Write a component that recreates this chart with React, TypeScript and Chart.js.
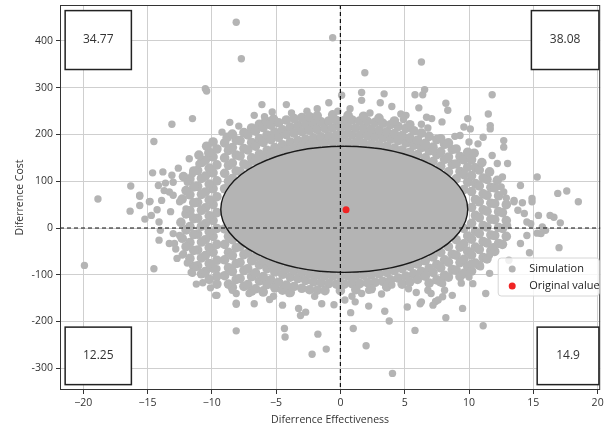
import React, { useEffect, useRef } from "react";
import { Chart, registerables } from "chart.js";
Chart.register(...registerables);

// ---- axis ticks ----
const xTicks = [-20, -15, -10, -5, 0, 5, 10, 15, 20];
const yTicks = [-300, -200, -100, 0, 100, 200, 300, 400];
const xRange = [-21.8, 20.2];
const yRange = [-346.5, 477];

// ---- quadrant labels (TL, TR, BL, BR) ----
const quadrantLabels = ["34.77", "38.08", "12.25", "14.9"];

// ---- original value ----
const originalValue: [number, number][] = [[0.44, 39]];

// ---- confidence ellipse (center, semi-axes in data units) ----
const ellipseCenter = [0.3, 40];
const ellipseRadii = [9.6, 135];

// ---- simulation points ----
const outlierPoints: [number, number][] = [
  [-8.1, 440], [-0.6, 407], [-7.7, 362], [1.9, 332], [6.3, 355], [-10.5, 298], [-10.4, 293],
  [-13.1, 222], [-11.5, 234], [-14.5, 185], [-6.1, 264], [-4.2, 264], [-0.9, 268], [0.1, 284],
  [1.65, 290], [1.65, 273], [3.4, 287], [3.1, 268], [4.0, 260], [0.75, 255], [-1.8, 255],
  [-8.6, 226], [-6.7, 241], [-5.3, 248], [5.8, 285], [6.4, 285], [6.55, 296], [11.8, 285],
  [8.2, 267], [8.35, 252], [6.1, 257], [6.7, 237], [7.1, 234], [6.3, 222], [7.9, 227], [4.7, 244],
  [5.1, 241], [9.9, 234], [9.6, 216], [10.1, 212], [11.5, 244], [11.65, 219], [11.65, 212],
  [9.3, 198], [10.0, 184], [10.7, 180], [11.1, 194], [12.7, 187], [12.7, 173], [13.0, 138],
  [12.2, 138], [11.8, 155], [14.0, 91], [15.3, 109], [16.9, 74], [17.6, 79], [18.5, 56],
  [14.9, 63], [14.9, 56], [13.5, 56], [14.15, 54], [15.4, 27], [16.3, 27], [16.6, 23],
  [17.1, 11], [17.0, -42], [15.6, -12], [14.7, -53], [15.7, 2], [15.95, -5], [15.3, -11],
  [14.5, -16], [14.0, -33], [13.1, -69], [13.5, 59], [13.8, 38], [14.3, 31], [14.5, 13],
  [14.8, 9], [12.5, 88], [12.7, 77], [12.6, 109],
  [-18.85, 62], [-19.9, -80], [-16.3, 90], [-16.35, 36], [-15.6, 68], [-15.6, 48], [-14.6, 118],
  [-13.8, 120], [-14.5, -87], [-15.2, 19], [-14.7, 27], [-14.25, 39], [-14.8, 57], [-14.15, 91],
  [-13.6, 96], [-13.1, 113], [-13.0, 98], [-11.75, 148], [-15.6, 70], [-14.85, 56], [-13.9, 59],
  [-13.7, 80], [-13.3, 77], [-13.0, 70], [-14.1, 13], [-14.0, -5], [-14.1, -26], [-13.3, -33],
  [-12.9, -33], [-12.7, -65], [-12.2, -55], [-11.9, -75], [-11.3, -85], [-11.5, -97],
  [-11.2, -120], [-10.7, -117], [-9.7, -144], [-10.5, -97], [-9.6, -87], [-8.4, -126],
  [-8.1, -140], [-8.1, -161], [-12.5, 56], [-11.9, 98], [-11.5, 116], [-11.0, 137], [-12.0, 41],
  [-11.5, 24], [-13.0, -12], [-12.5, -16], [-10.3, 160], [-12.3, -58], [-11.6, -95],
  [-8.1, -220], [-4.35, -215], [-4.3, -233], [-2.2, -270], [-1.75, -227], [-1.1, -259],
  [2.0, -252], [1.0, -215], [4.05, -311], [3.8, -199], [3.45, -178], [5.8, -219], [8.2, -192],
  [9.5, -172], [11.1, -209], [7.4, -157], [8.7, -144], [6.2, -162], [5.2, -169], [2.2, -167],
  [0.8, -181], [-0.5, -164], [-1.45, -162], [-3.25, -172], [-3.1, -187], [-2.7, -180],
  [-4.5, -165], [-5.5, -153], [-6.7, -162], [-8.1, -163], [-9.6, -144], [-8.4, -133],
  [-7.1, -140], [-6.0, -132], [-4.0, -140], [6.8, -133], [8.1, -133], [10.3, -119],
  [11.3, -140], [10.15, -76], [10.9, -83], [4.0, -122], [5.3, -130], [2.2, -133], [1.65, -140],
  [1.15, -158], [0.35, -154], [11.6, -58], [11.6, -97], [10.0, -105], [7.95, -119],
  [7.95, -147], [7.6, -154], [7.2, -165], [7.05, -140], [6.3, -158],
  [-9.2, 205], [-7.9, 218], [-5.9, 238], [-3.8, 246], [-2.6, 250], [-0.2, 250], [2.3, 246],
  [4.9, 232], [6.8, 214], [8.9, 196], [-12.6, 128], [-13.2, 35], [-12.8, -45], [-10.1, -128],
  [-5.2, -146], [-2.0, -146], [0.9, -146], [3.2, -141], [5.9, -138], [9.4, -118], [11.9, -40],
  [13.0, 5], [12.9, 64],
];

const upperBand: [number, number][] = [
  [-9.0, 84], [-8.7, 100], [-9.0, 117], [-8.7, 134], [-9.0, 150], [-8.7, 166], [-9.0, 182], [-8.8, 194],
  [-8.4, 106], [-8.1, 122], [-8.4, 139], [-8.1, 156], [-8.4, 172], [-8.1, 188], [-8.4, 201],
  [-7.8, 121], [-7.5, 137], [-7.8, 154], [-7.5, 170], [-7.8, 187], [-7.5, 204],
  [-7.2, 134], [-6.9, 150], [-7.2, 167], [-6.9, 183], [-7.2, 199], [-6.9, 214],
  [-6.6, 143], [-6.3, 158], [-6.6, 175], [-6.3, 191], [-6.6, 207], [-6.3, 222],
  [-6.0, 150], [-5.7, 166], [-6.0, 183], [-5.7, 199], [-6.0, 215], [-5.8, 229],
  [-5.4, 157], [-5.1, 172], [-5.4, 189], [-5.1, 205], [-5.4, 220], [-5.2, 233],
  [-4.8, 162], [-4.5, 178], [-4.8, 194], [-4.5, 210], [-4.8, 225],
  [-4.2, 168], [-3.9, 184], [-4.2, 200], [-3.9, 216], [-4.2, 231],
  [-3.6, 171], [-3.3, 187], [-3.6, 203], [-3.3, 219], [-3.6, 234],
  [-3.0, 175], [-2.7, 190], [-3.0, 206], [-2.7, 222], [-3.0, 236],
  [-2.4, 177], [-2.1, 193], [-2.4, 209], [-2.1, 225], [-2.4, 238],
  [-1.8, 180], [-1.5, 195], [-1.8, 211], [-1.5, 227], [-1.8, 240],
  [-1.2, 182], [-0.9, 197], [-1.2, 213], [-0.9, 229],
  [-0.6, 183], [-0.3, 198], [-0.6, 214], [-0.3, 230], [-0.6, 242],
  [0.0, 183], [0.3, 199], [0.0, 215], [0.3, 230],
  [0.6, 183], [0.9, 199], [0.6, 215], [0.9, 231], [0.6, 241],
  [1.2, 183], [1.5, 198], [1.2, 214], [1.5, 229],
  [1.8, 181], [2.1, 197], [1.8, 213], [2.1, 228], [1.8, 239],
  [2.4, 180], [2.7, 195], [2.4, 211], [2.7, 226],
  [3.0, 178], [3.3, 193], [3.0, 209], [3.3, 224], [3.0, 235],
  [3.6, 175], [3.9, 190], [3.6, 206], [3.9, 221],
  [4.2, 171], [4.5, 187], [4.2, 202], [4.5, 217], [4.2, 229],
  [4.8, 167], [5.1, 182], [4.8, 198], [5.1, 213],
  [5.4, 162], [5.7, 177], [5.4, 193], [5.7, 208], [5.4, 221],
  [6.0, 157], [6.3, 172], [6.0, 188], [6.3, 203],
  [6.6, 150], [6.9, 165], [6.6, 181], [6.9, 196],
  [7.2, 142], [7.5, 157], [7.2, 173], [7.5, 189],
  [7.8, 132], [8.1, 147], [7.8, 163], [8.1, 179], [7.8, 191],
  [8.4, 120], [8.7, 136], [8.4, 152], [8.7, 168], [8.4, 182],
  [9.0, 105], [9.3, 121], [9.0, 137], [9.3, 153], [9.0, 169],
  [9.6, 82], [9.9, 98], [9.6, 114], [9.9, 130], [9.6, 146], [9.9, 162],
];

const lowerBand: [number, number][] = [
  [-9.0, -2], [-8.7, -18], [-9.0, -35], [-8.7, -52], [-9.0, -68], [-8.7, -85], [-9.0, -102], [-8.7, -120],
  [-8.4, -25], [-8.1, -42], [-8.4, -59], [-8.1, -76], [-8.4, -93], [-8.1, -110], [-8.4, -127],
  [-7.8, -40], [-7.5, -57], [-7.8, -74], [-7.5, -91], [-7.8, -108], [-7.5, -125],
  [-7.2, -53], [-6.9, -70], [-7.2, -87], [-6.9, -104], [-7.2, -121], [-6.9, -135],
  [-6.6, -62], [-6.3, -79], [-6.6, -96], [-6.3, -113], [-6.6, -130],
  [-6.0, -70], [-5.7, -87], [-6.0, -104], [-5.7, -121], [-6.0, -137],
  [-5.4, -77], [-5.1, -94], [-5.4, -111], [-5.1, -128],
  [-4.8, -82], [-4.5, -99], [-4.8, -116], [-4.5, -133],
  [-4.2, -88], [-3.9, -105], [-4.2, -122], [-3.9, -138],
  [-3.6, -91], [-3.3, -108], [-3.6, -125],
  [-3.0, -95], [-2.7, -112], [-3.0, -129],
  [-2.4, -98], [-2.1, -115], [-2.4, -132],
  [-1.8, -100], [-1.5, -117], [-1.8, -133],
  [-1.2, -102], [-0.9, -119], [-1.2, -134],
  [-0.6, -103], [-0.3, -120],
  [0.0, -103], [0.3, -120], [0.0, -134],
  [0.6, -103], [0.9, -119],
  [1.2, -103], [1.5, -119], [1.2, -132],
  [1.8, -101], [2.1, -117],
  [2.4, -100], [2.7, -116], [2.4, -130],
  [3.0, -98], [3.3, -114],
  [3.6, -95], [3.9, -111], [3.6, -126],
  [4.2, -91], [4.5, -107],
  [4.8, -87], [5.1, -103], [4.8, -120],
  [5.4, -82], [5.7, -98], [5.4, -115],
  [6.0, -77], [6.3, -93], [6.0, -110],
  [6.6, -70], [6.9, -86], [6.6, -103], [6.9, -118],
  [7.2, -62], [7.5, -78], [7.2, -95], [7.5, -111],
  [7.8, -52], [8.1, -68], [7.8, -85], [8.1, -101], [7.8, -115],
  [8.4, -40], [8.7, -56], [8.4, -73], [8.7, -89], [8.4, -105],
  [9.0, -25], [9.3, -41], [9.0, -58], [9.3, -74], [9.0, -90], [9.3, -104],
  [9.6, -1], [9.9, -17], [9.6, -34], [9.9, -50], [9.6, -67], [9.9, -83], [9.6, -97],
];

const leftWing: [number, number][] = [
  [-9.6, -120], [-9.6, -103], [-9.9, -86], [-9.6, -69], [-9.9, -52], [-9.6, -35], [-9.9, -18],
  [-9.6, -1], [-9.9, 16], [-9.6, 33], [-9.9, 50], [-9.6, 67], [-9.9, 84], [-9.6, 101],
  [-9.9, 118], [-9.6, 135], [-9.9, 152], [-9.6, 169], [-9.9, 184],
  [-10.2, -110], [-10.5, -93], [-10.2, -76], [-10.5, -59], [-10.2, -42], [-10.5, -25],
  [-10.2, -8], [-10.5, 9], [-10.2, 26], [-10.5, 43], [-10.2, 60], [-10.5, 77], [-10.2, 94],
  [-10.5, 111], [-10.2, 128], [-10.5, 145], [-10.2, 162], [-10.4, 175],
  [-10.8, -98], [-11.1, -81], [-10.8, -64], [-11.1, -47], [-10.8, -30], [-11.1, -13],
  [-10.8, 4], [-11.1, 21], [-10.8, 38], [-11.1, 55], [-10.8, 72], [-11.1, 89], [-10.8, 106],
  [-11.1, 123], [-10.8, 140], [-11.0, 156],
  [-11.4, -82], [-11.7, -65], [-11.4, -48], [-11.7, -31], [-11.4, -14], [-11.7, 3],
  [-11.4, 20], [-11.7, 37], [-11.4, 54], [-11.7, 71], [-11.4, 88], [-11.7, 105], [-11.4, 122],
  [-12.0, -40], [-12.3, -22], [-12.0, -4], [-12.4, 12], [-12.0, 30], [-12.3, 62], [-12.0, 80],
  [-12.2, 110],
];

const rightWing: [number, number][] = [
  [10.2, -92], [10.5, -75], [10.2, -58], [10.5, -41], [10.2, -24], [10.5, -7], [10.2, 10],
  [10.5, 27], [10.2, 44], [10.5, 61], [10.2, 78], [10.5, 95], [10.2, 112], [10.5, 129],
  [10.2, 146], [10.4, 160],
  [10.8, -80], [11.1, -63], [10.8, -46], [11.1, -29], [10.8, -12], [11.1, 5], [10.8, 22],
  [11.1, 39], [10.8, 56], [11.1, 73], [10.8, 90], [11.1, 107], [10.8, 124], [11.0, 140],
  [11.4, -66], [11.7, -49], [11.4, -32], [11.7, -15], [11.4, 2], [11.7, 19], [11.4, 36],
  [11.7, 53], [11.4, 70], [11.7, 87], [11.4, 104], [11.6, 120],
  [12.0, -50], [12.3, -33], [12.0, -16], [12.3, 1], [12.0, 18], [12.3, 35], [12.0, 52],
  [12.3, 69], [12.0, 86], [12.2, 102],
  [12.6, -35], [12.9, -18], [12.6, -1], [12.9, 16], [12.6, 33], [12.9, 50],
];

const GRAY = "#b4b4b4";
const RED = "#f02424";
const FONT = "'Open Sans', 'DejaVu Sans', sans-serif";

const toXY = (arr: [number, number][]) => arr.map(([x, y]) => ({ x, y }));

const ellipsePixels = (chart: any) => {
  const xs = chart.scales.x, ys = chart.scales.y;
  const cx = xs.getPixelForValue(ellipseCenter[0]);
  const cy = ys.getPixelForValue(ellipseCenter[1]);
  const rx = Math.abs(xs.getPixelForValue(ellipseCenter[0] + ellipseRadii[0]) - cx);
  const ry = Math.abs(ys.getPixelForValue(ellipseCenter[1] + ellipseRadii[1]) - cy);
  return { cx, cy, rx, ry };
};

const overlayPlugin = {
  id: "overlay",
  beforeDatasetsDraw(chart: any) {
    const { ctx } = chart;
    const { cx, cy, rx, ry } = ellipsePixels(chart);
    ctx.save();
    ctx.beginPath();
    ctx.ellipse(cx, cy, rx, ry, 0, 0, Math.PI * 2);
    ctx.fillStyle = GRAY;
    ctx.fill();
    ctx.restore();
  },
  afterDatasetsDraw(chart: any) {
    const { ctx, scales, chartArea } = chart;
    const xs = scales.x, ys = scales.y;
    ctx.save();
    const { cx, cy, rx, ry } = ellipsePixels(chart);
    ctx.beginPath();
    ctx.ellipse(cx, cy, rx, ry, 0, 0, Math.PI * 2);
    ctx.strokeStyle = "#1a1a1a";
    ctx.lineWidth = 1.4;
    ctx.stroke();

    // dashed zero lines
    ctx.setLineDash([4, 3]);
    ctx.lineWidth = 1.2;
    ctx.strokeStyle = "#111";
    const x0 = xs.getPixelForValue(0);
    const y0 = ys.getPixelForValue(0);
    ctx.beginPath();
    ctx.moveTo(x0, chartArea.top);
    ctx.lineTo(x0, chartArea.bottom);
    ctx.moveTo(chartArea.left, y0);
    ctx.lineTo(chartArea.right, y0);
    ctx.stroke();
    ctx.setLineDash([]);

    // quadrant boxes
    const boxes = [
      { x1: -21.4, x2: -16.25, y1: 465, y2: 339 },
      { x1: 14.85, x2: 20.1, y1: 465, y2: 339 },
      { x1: -21.4, x2: -16.25, y1: -212, y2: -335 },
      { x1: 15.3, x2: 20.1, y1: -212, y2: -335 },
    ];
    boxes.forEach((b, i) => {
      const l = xs.getPixelForValue(b.x1);
      const r = xs.getPixelForValue(b.x2);
      const t = ys.getPixelForValue(b.y1);
      const bt = ys.getPixelForValue(b.y2);
      ctx.fillStyle = "#fff";
      ctx.fillRect(l, t, r - l, bt - t);
      ctx.strokeStyle = "#222";
      ctx.lineWidth = 1.5;
      ctx.strokeRect(l, t, r - l, bt - t);
      ctx.fillStyle = "#333";
      ctx.font = `12px ${FONT}`;
      ctx.textAlign = "center";
      ctx.textBaseline = "middle";
      ctx.fillText(quadrantLabels[i], (l + r) / 2, (t + bt) / 2);
    });

    // frame
    ctx.strokeStyle = "#333";
    ctx.lineWidth = 1;
    ctx.strokeRect(chartArea.left + 0.5, chartArea.top + 0.5, chartArea.right - chartArea.left - 1, chartArea.bottom - chartArea.top - 1);

    // legend
    const lw = 101, lh = 38;
    const lx = chartArea.right - lw - 1;
    const ly = chartArea.top + 253;
    ctx.beginPath();
    if (ctx.roundRect) ctx.roundRect(lx, ly, lw, lh, 3);
    else ctx.rect(lx, ly, lw, lh);
    ctx.fillStyle = "rgba(255,255,255,0.8)";
    ctx.fill();
    ctx.strokeStyle = "#d6d6d6";
    ctx.lineWidth = 1;
    ctx.stroke();
    chart.data.datasets.forEach((ds: any, i: number) => {
      const yy = ly + 11 + i * 17;
      ctx.beginPath();
      ctx.arc(lx + 14, yy, 3.5, 0, Math.PI * 2);
      ctx.fillStyle = ds.backgroundColor;
      ctx.fill();
      ctx.fillStyle = "#222";
      ctx.font = `11px ${FONT}`;
      ctx.textAlign = "left";
      ctx.textBaseline = "middle";
      ctx.fillText(ds.label, lx + 31, yy);
    });
    ctx.restore();
  },
};

export default function App() {
  const ref = useRef<HTMLCanvasElement | null>(null);
  useEffect(() => {
    if (!ref.current) return;
    const dense = [...toXY(upperBand), ...toXY(lowerBand), ...toXY(leftWing), ...toXY(rightWing)];
    const denseCount = dense.length;
    const simulation = [...dense, ...toXY(outlierPoints)];
    const chart = new Chart(ref.current, {
      type: "scatter",
      data: {
        datasets: [
          {
            label: "Simulation",
            data: simulation,
            backgroundColor: GRAY,
            borderWidth: 0,
            pointRadius: (c: any) => (c.dataIndex < denseCount ? 4.8 : 3.7),
          },
          {
            label: "Original value",
            data: toXY(originalValue),
            backgroundColor: RED,
            borderWidth: 0,
            pointRadius: 3.5,
          },
        ],
      },
      options: {
        animation: false,
        responsive: false,
        devicePixelRatio: 1,
        layout: { padding: { left: 0, top: 5, right: 2, bottom: 0 } },
        plugins: { legend: { display: false }, tooltip: { enabled: false } },
        scales: {
          x: {
            type: "linear",
            min: xRange[0],
            max: xRange[1],
            afterBuildTicks: (s: any) => { s.ticks = xTicks.map((v) => ({ value: v })); },
            afterFit: (s: any) => { s.height = 40; s.paddingLeft = 0; s.paddingRight = 0; },
            ticks: {
              padding: 3,
              color: "#333",
              font: { family: FONT, size: 10.5 },
              maxRotation: 0,
              callback: (v: any) => (v < 0 ? "\u2212" + Math.abs(v) : String(v)),
            },
            grid: { color: "#cfcfcf", lineWidth: 1, tickColor: "#333", tickLength: 4 },
            border: { display: false },
            title: {
              display: true,
              text: "Diferrence Effectiveness",
              color: "#333",
              font: { family: FONT, size: 10.5 },
              padding: { top: 0, bottom: 4 },
            },
          },
          y: {
            type: "linear",
            min: yRange[0],
            max: yRange[1],
            afterBuildTicks: (s: any) => { s.ticks = yTicks.map((v) => ({ value: v })); },
            afterFit: (s: any) => { s.width = 60; s.paddingTop = 0; s.paddingBottom = 0; },
            ticks: {
              padding: 3,
              color: "#333",
              font: { family: FONT, size: 10.5 },
              callback: (v: any) => String(v),
            },
            grid: { color: "#cfcfcf", lineWidth: 1, tickColor: "#333", tickLength: 4 },
            border: { display: false },
            title: {
              display: true,
              text: "Diferrence Cost",
              color: "#333",
              font: { family: FONT, size: 10.5 },
              padding: { top: 14, bottom: 0 },
            },
          },
        },
      },
      plugins: [overlayPlugin],
    });
    return () => chart.destroy();
  }, []);
  return (
    <div style={{ position: "absolute", left: 0, top: 0, width: 605, height: 430, background: "#fff" }}>
      <canvas ref={ref} width={605} height={430} style={{ display: "block" }} />
    </div>
  );
}
